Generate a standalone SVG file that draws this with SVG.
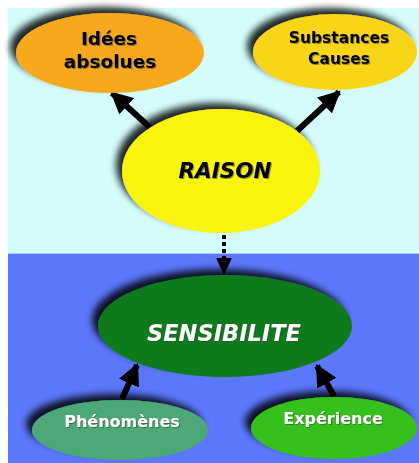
<svg xmlns="http://www.w3.org/2000/svg" width="419" height="463" viewBox="0 0 419 463">
<defs>
<style>
.t{font-family:"DejaVu Sans",Verdana,sans-serif;font-weight:bold;text-anchor:middle}
.dk{fill:#000}
.wh{fill:#fff}
.it{font-style:italic}
.con{stroke:#000;fill:none}
</style>
<filter id="sh" x="-30%" y="-30%" width="160%" height="160%">
<feGaussianBlur in="SourceAlpha" stdDeviation="3.5"/>
<feOffset dx="-6" dy="-6" result="b"/>
<feComponentTransfer in="b" result="c"><feFuncA type="linear" slope="0.85"/></feComponentTransfer>
<feMerge><feMergeNode in="c"/><feMergeNode in="SourceGraphic"/></feMerge>
</filter>
<filter id="ts" x="-10%" y="-30%" width="120%" height="160%">
<feGaussianBlur in="SourceAlpha" stdDeviation="0.6"/>
<feOffset dx="0.8" dy="0.8" result="o"/>
<feFlood flood-color="#444" flood-opacity="0.6"/>
<feComposite in2="o" operator="in" result="s"/>
<feMerge><feMergeNode in="s"/><feMergeNode in="SourceGraphic"/></feMerge>
</filter>
<marker id="ah" viewBox="0 0 10 10" refX="9" refY="5" markerWidth="22" markerHeight="22" markerUnits="userSpaceOnUse" orient="auto">
<path d="M0,0 L10,5 L0,10 Z" fill="#000"/>
</marker>
<marker id="ahs" viewBox="0 0 10 10" refX="9" refY="5" markerWidth="17" markerHeight="17" markerUnits="userSpaceOnUse" orient="auto">
<path d="M0,0 L10,5 L0,10 Z" fill="#000"/>
</marker>
</defs>
<rect x="0" y="0" width="419" height="463" fill="#fff"/>
<rect x="8" y="8" width="411" height="245" fill="#D4FCFC"/>
<rect x="8" y="253" width="411" height="1" fill="#A9C8FB"/>
<rect x="8" y="254" width="411" height="209" fill="#5B77FB"/>
<g id="connectors">
<line class="con" x1="154" y1="131" x2="112" y2="93" stroke-width="6" marker-end="url(#ah)"/>
<line class="con" x1="297" y1="131" x2="339" y2="92" stroke-width="6" marker-end="url(#ah)"/>
<line class="con" x1="224" y1="235" x2="224" y2="260" stroke-width="4" stroke-dasharray="4 3"/>
<path d="M216,258 L232,258 L224,275 Z" fill="#000"/>
<line class="con" x1="122" y1="399" x2="137" y2="365" stroke-width="6" marker-end="url(#ah)"/>
<line class="con" x1="334" y1="396" x2="317" y2="366" stroke-width="6" marker-end="url(#ah)"/>
</g>
<g id="idees">
<ellipse cx="110" cy="53" rx="94" ry="40" fill="#F7A81B" filter="url(#sh)"/>
<text class="t dk" x="109" y="45" font-size="18.5" filter="url(#ts)">Idées</text>
<text class="t dk" x="110" y="68" font-size="18.5" filter="url(#ts)">absolues</text>
</g>
<g id="substances">
<ellipse cx="335" cy="52" rx="82" ry="38" fill="#F8D514" filter="url(#sh)"/>
<text class="t dk" x="339" y="43" font-size="15.5" filter="url(#ts)">Substances</text>
<text class="t dk" x="339" y="64" font-size="15.5" filter="url(#ts)">Causes</text>
</g>
<g id="raison">
<ellipse cx="221" cy="171" rx="99" ry="62" fill="#F8F40C" filter="url(#sh)"/>
<text class="t dk it" x="225" y="178" font-size="21.5" filter="url(#ts)">RAISON</text>
</g>
<g id="sensibilite">
<ellipse cx="225" cy="326" rx="127" ry="51" fill="#0E7A1E" filter="url(#sh)"/>
<text class="t wh it" x="224" y="341" font-size="22.5" filter="url(#ts)">SENSIBILITE</text>
</g>
<g id="phenomenes">
<ellipse cx="120" cy="430" rx="88" ry="30" fill="#4DA877" filter="url(#sh)"/>
<text class="t wh" x="122" y="427" font-size="16" filter="url(#ts)">Phénomènes</text>
</g>
<g id="experience">
<ellipse cx="334" cy="428" rx="83" ry="31" fill="#34C01A" filter="url(#sh)"/>
<text class="t wh" x="333" y="424" font-size="16" filter="url(#ts)">Expérience</text>
</g>
</svg>
